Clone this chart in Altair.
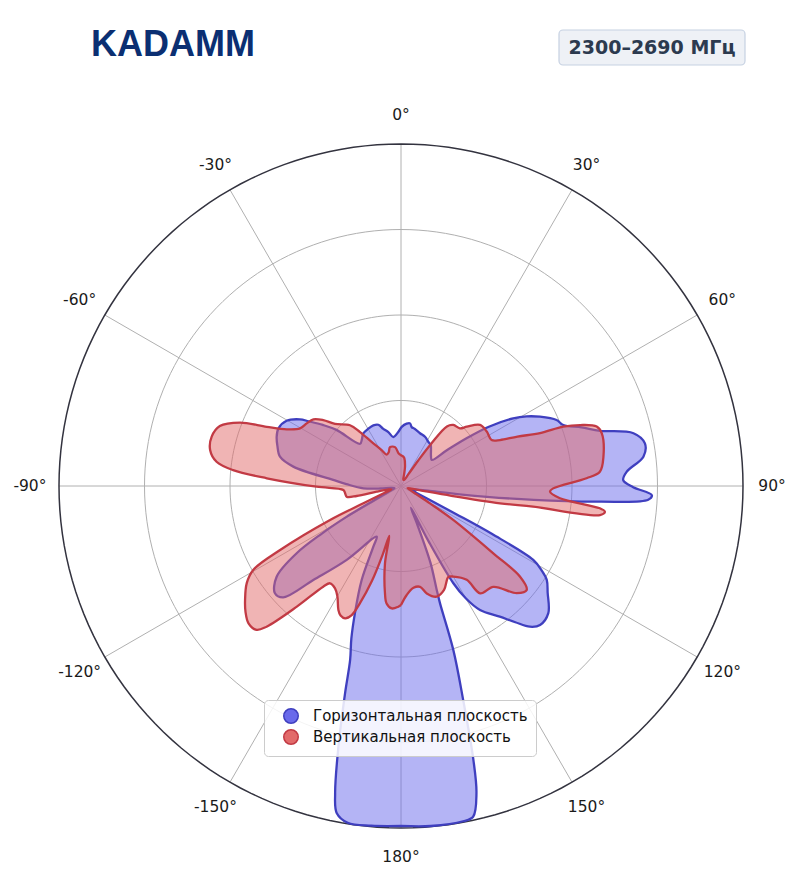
import altair as alt
import pandas as pd
import numpy as np

# ---------------- data ----------------
series_names = ["Горизонтальная плоскость", "Вертикальная плоскость"]

h_angle = [-180, -175, -171, -168.9, -167.9, -166.5, -164.9, -163.7, -162, -160.1, -157.3,
           -155.5, -154.4, -143.7, -137, -133.4, -130.4, -126.1, -122.8, -121, -119.5, -118,
           -115, -108, -100, -97, -93.5, -88, -84.9, -79.8, -76.4, -72, -68.4, -64.8, -60.3,
           -56.6, -55, -52, -49, -44.1, -40, -35.8, -29.7, -24.5, -20.3, -17.2, -13.2, -8.9,
           -2.9, 0.7, 5.2, 8.2, 10.3, 13.3, 19.8, 26, 31.6, 35.9, 39.8, 44.5, 49.7, 52, 54,
           56, 58.9, 61, 63.5, 67, 69.4, 72, 74.5, 77.2, 80.1, 83.1, 86.4, 88.5, 90.3, 92.1,
           93.2, 94.5, 96, 98, 100, 104, 110, 114, 116, 117, 117.8, 119.2, 121, 122.8, 126,
           130.8, 135, 137.5, 140, 142.9, 147.5, 150, 151.7, 153.5, 155.5, 157, 159, 161,
           161.6, 162.3, 163.8, 165.2, 166.2, 167.7, 169.5, 175, 180]
h_r = [0.994, 0.997, 0.997, 0.975, 0.919, 0.784, 0.628, 0.53, 0.47, 0.396, 0.298,
       0.195, 0.164, 0.268, 0.376, 0.474, 0.484, 0.45, 0.363, 0.27, 0.182, 0.09,
       0.04, 0.02, 0.03, 0.06, 0.11, 0.16, 0.199, 0.32, 0.364, 0.38, 0.391, 0.396, 0.385,
       0.354, 0.33, 0.29, 0.25, 0.172, 0.178, 0.189, 0.193, 0.195, 0.191, 0.175, 0.162, 0.145,
       0.158, 0.173, 0.183, 0.185, 0.175, 0.172, 0.164, 0.16, 0.152, 0.148, 0.137, 0.125, 0.118, 0.17, 0.24,
       0.31, 0.383, 0.42, 0.454, 0.494, 0.507, 0.555, 0.604, 0.697, 0.724, 0.714, 0.661, 0.65, 0.679, 0.734,
       0.724, 0.584, 0.39, 0.18, 0.08, 0.04, 0.03, 0.05, 0.1, 0.18, 0.3, 0.443, 0.48, 0.507, 0.53,
       0.569, 0.575, 0.558, 0.52, 0.479, 0.43, 0.38, 0.323, 0.18, 0.07, 0.12, 0.24, 0.32,
       0.361, 0.503, 0.652, 0.829, 0.925, 0.99, 0.997, 0.998, 0.994]

v_angle = [-180, -178.7, -175.7, -173, -171.5, -168.3, -166.8, -165, -163, -160.7, -159.1,
           -157.1, -155, -153.2, -150, -147.2, -143.9, -142.3, -139.2, -136.3, -134.9, -132,
           -129, -126.2, -122.2, -119.6, -117.9, -115.6, -114.7, -113, -109, -105, -103,
           -102.7, -101.1, -97, -94, -90.5, -86.7, -84.6, -82.5, -79.3, -75.4, -71.7, -68.5,
           -66.2, -63.6, -60.3, -56.4, -52.7, -49.7, -46.7, -40, -37.2, -33.7, -28.4, -24.6,
           -20, -15.8, -8.7, -4, 0, 4.5, 6.8, 11.7, 15, 20, 27, 32, 34, 35.5, 37.6, 40.6,
           45.6, 48, 52.3, 57.6, 63.1, 65.1, 67, 69.2, 69.9, 71.2, 73.1, 75.3, 81.8, 85.9,
           87.6, 90.9, 92.2, 94.4, 96.4, 97.2, 98.3, 98.9, 99.9, 101, 103, 108, 114, 118,
           121, 123, 126.1, 127.3, 129.6, 132.8, 137.5, 143.6, 145, 150, 152.5, 157.5,
           162.1, 166.5, 169.3, 173, 177, 180]
v_r = [0.348, 0.353, 0.359, 0.346, 0.317, 0.231, 0.15, 0.21, 0.29, 0.363, 0.404,
       0.42, 0.418, 0.406, 0.372, 0.356, 0.352, 0.372, 0.466, 0.569, 0.596, 0.6,
       0.585, 0.565, 0.533, 0.497, 0.4, 0.23, 0.121, 0.06, 0.03, 0.04, 0.073,
       0.133, 0.162, 0.165, 0.169, 0.247, 0.393, 0.493, 0.544, 0.568, 0.572, 0.558, 0.506,
       0.429, 0.373, 0.34, 0.331, 0.322, 0.298, 0.265, 0.232, 0.198, 0.155, 0.119, 0.101,
       0.105, 0.118, 0.115, 0.095, 0.09, 0.086, 0.082, 0.058, 0.035, 0.02, 0.02, 0.04, 0.09, 0.15, 0.22, 0.235,
       0.241, 0.259, 0.292, 0.297, 0.297, 0.319, 0.37, 0.435, 0.505, 0.553, 0.598, 0.607, 0.598, 0.583,
       0.543, 0.445, 0.436, 0.466, 0.585, 0.601, 0.588, 0.391, 0.294, 0.15, 0.05, 0.02, 0.03, 0.05,
       0.1, 0.182, 0.334, 0.437, 0.477, 0.461, 0.4, 0.39, 0.335, 0.306, 0.3, 0.329,
       0.34, 0.323, 0.3, 0.3, 0.319, 0.348]

tick_angles = [0, 30, 60, 90, 120, 150, 180, 210, 240, 270, 300, 330]
tick_labels = ["0°", "30°", "60°", "90°", "120°", "150°", "180°",
               "-150°", "-120°", "-90°", "-60°", "-30°"]
ring_levels = [0.25, 0.5, 0.75]
badge_text = ["2300–2690 МГц"]
logo_text = ["KADAMM"]

# ---------------- layout ----------------
R_PX = 342          # pixel radius of the outer circle
W, H = 784, 862
CX, CY = 393, 478   # centre of the polar plot inside the view
xs = alt.Scale(domain=[-CX / R_PX, (W - CX) / R_PX], nice=False, zero=False)
ys = alt.Scale(domain=[-(H - CY) / R_PX, CY / R_PX], nice=False, zero=False)
X = lambda f: alt.X(f, type="quantitative", scale=xs, axis=None)
Y = lambda f: alt.Y(f, type="quantitative", scale=ys, axis=None)

fill_cols = ["#6a6aeb", "#e26a6a"]
stroke_cols = ["#3f3fbf", "#c23a44"]

pat = pd.concat([
    pd.DataFrame({"series": series_names[0], "i": range(len(h_angle)), "deg": h_angle, "r": h_r}),
    pd.DataFrame({"series": series_names[1], "i": range(len(v_angle)), "deg": v_angle, "r": v_r}),
], ignore_index=True)

# grid circles (decoration)
circ_deg = list(range(0, 361, 2))
rings = pd.DataFrame([(lv, d) for lv in ring_levels + [1.0] for d in circ_deg], columns=["lv", "deg"])
spokes = pd.DataFrame({"deg": tick_angles})
ticks = pd.DataFrame({"deg": tick_angles, "label": tick_labels})

grid = alt.Chart(rings).transform_filter("datum.lv < 1").transform_calculate(
    x="datum.lv * sin(datum.deg * PI / 180)", y="datum.lv * cos(datum.deg * PI / 180)"
).mark_line(stroke="#b0b0b0", strokeWidth=1).encode(
    x=X("x"), y=Y("y"), detail="lv:N", order="deg:Q")

outer = alt.Chart(rings).transform_filter("datum.lv == 1").transform_calculate(
    x="sin(datum.deg * PI / 180)", y="cos(datum.deg * PI / 180)"
).mark_line(stroke="#33333f", strokeWidth=1.5).encode(
    x=X("x"), y=Y("y"), order="deg:Q")

spk = alt.Chart(spokes).transform_calculate(
    x0="0", y0="0", x1="sin(datum.deg * PI / 180)", y1="cos(datum.deg * PI / 180)"
).mark_rule(stroke="#b0b0b0", strokeWidth=1).encode(
    x=X("x0"), y=Y("y0"), x2="x1:Q", y2="y1:Q")

legend = alt.Legend(
    title=None, orient="none", legendX=256, legendY=692, symbolType="circle",
    symbolSize=210, symbolStrokeWidth=1.5, labelFontSize=15, labelFont="DejaVu Sans",
    labelColor="#111111", labelLimit=600, fillColor="rgba(255,255,255,0.85)", strokeColor="#cccccc",
    padding=8, cornerRadius=4, rowPadding=-1, labelOffset=14, symbolOffset=11,
)


def pattern(name):
    return alt.Chart(pat).transform_filter(alt.datum.series == name).transform_calculate(
        x="datum.r * sin(datum.deg * PI / 180)", y="datum.r * cos(datum.deg * PI / 180)"
    ).mark_line(fillOpacity=0.5, strokeWidth=2.3, strokeJoin="round", interpolate="catmull-rom").encode(
        x=X("x"), y=Y("y"), order="i:Q",
        fill=alt.Fill("series:N", scale=alt.Scale(domain=series_names, range=fill_cols), legend=legend),
        stroke=alt.Stroke("series:N", scale=alt.Scale(domain=series_names, range=stroke_cols), legend=legend),
    )


labels = alt.Chart(ticks).transform_calculate(
    x="1.085 * sin(datum.deg * PI / 180)", y="1.085 * cos(datum.deg * PI / 180)"
).mark_text(font="DejaVu Sans", fontSize=15.5, color="#1a1a1a", align="center", baseline="middle").encode(
    x=X("x"), y=Y("y"), text="label:N")

badge_df = pd.DataFrame({"t": badge_text})
badge_box = alt.Chart(badge_df).mark_rect(
    fill="#eef1f6", stroke="#c6d1e2", strokeWidth=1.2, cornerRadius=4
).encode(x=alt.value(551), x2=alt.value(737), y=alt.value(22), y2=alt.value(57))
badge_txt = alt.Chart(badge_df).mark_text(
    font="DejaVu Sans", fontWeight="bold", fontSize=19, color="#2c3a4f", align="center", baseline="middle"
).encode(x=alt.value(644), y=alt.value(40), text="t:N")

logo = alt.Chart(pd.DataFrame({"t": logo_text})).mark_text(
    font="Liberation Sans", fontWeight="bold", fontSize=36, color="#0b2f72", align="left", baseline="alphabetic"
).encode(x=alt.value(83), y=alt.value(48), text="t:N")

chart = alt.layer(
    grid, spk, outer,
    pattern(series_names[0]), pattern(series_names[1]),
    labels, badge_box, badge_txt, logo,
).properties(
    width=W, height=H, padding=0, autosize="none", background="white"
).configure_view(strokeWidth=0)

chart.save("out.html", embed_options={"renderer": "svg", "actions": False})
